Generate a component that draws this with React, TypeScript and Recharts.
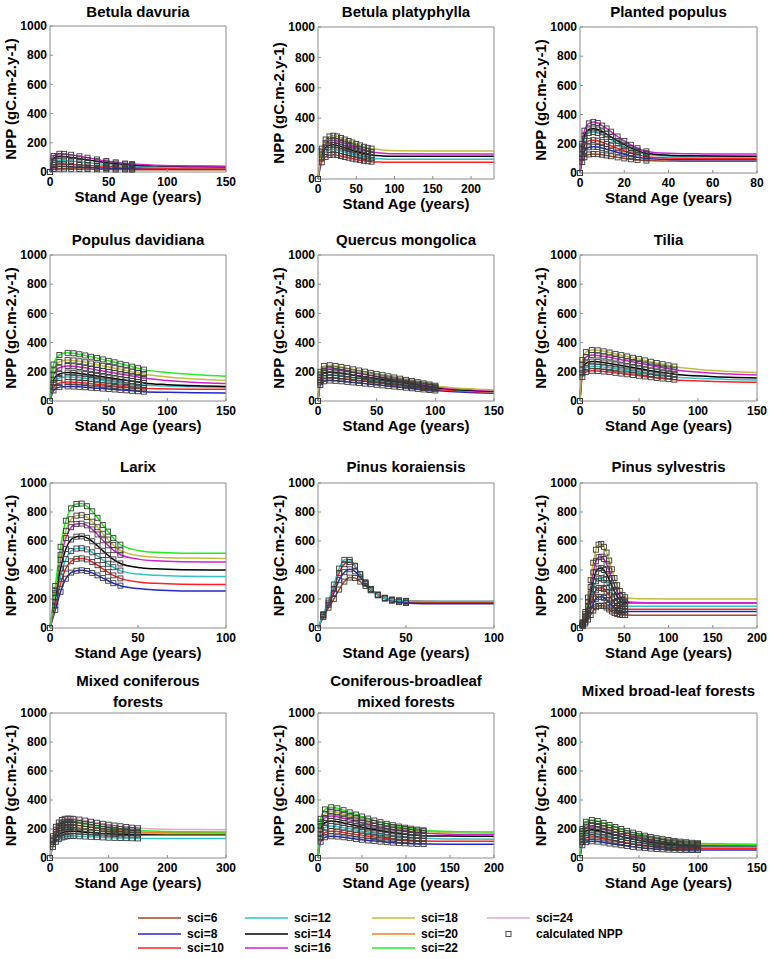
import React from "react";
import { LineChart, Line, XAxis, YAxis, Label } from "recharts";

const FONT = '"Liberation Sans", Arial, Helvetica, sans-serif';
const AXIS = "#8c8c8c";

const sciLevels = [6, 8, 10, 12, 14, 16, 18, 20, 22, 24];
const sciColors: Record<number, string> = {
  6: "#a4461f",
  8: "#2626c8",
  10: "#ff2020",
  12: "#33c2c2",
  14: "#000000",
  16: "#d020d0",
  18: "#c4bc3c",
  20: "#ef8022",
  22: "#22ee22",
  24: "#e2a8cc",
};

const yTicks = [0, 200, 400, 600, 800, 1000];

// ---- Betula davuria
const bdAges = [0, 3, 8, 12, 18, 25, 32, 40, 48, 56, 64, 70, 90, 120, 150];
const bdNpp: Record<number, number[]> = {
  6: [0, 20, 23, 23, 22, 21, 20, 19, 18, 17, 17, 16, 16, 15, 15],
  8: [0, 32, 37, 37, 35, 33, 31, 29, 27, 25, 24, 23, 21, 20, 20],
  10: [0, 48, 55, 54, 52, 48, 45, 41, 38, 35, 32, 30, 27, 25, 24],
  12: [0, 70, 80, 79, 75, 69, 63, 57, 51, 46, 42, 39, 34, 31, 30],
  14: [0, 95, 108, 106, 100, 92, 83, 74, 65, 58, 52, 48, 42, 38, 36],
  16: [0, 110, 125, 124, 118, 108, 98, 86, 75, 66, 58, 54, 46, 41, 40],
};

// ---- Betula platyphylla
const bpAges = [0, 5, 10, 15, 20, 25, 30, 35, 40, 45, 50, 55, 60, 65, 70, 85, 100, 150, 230];
const bpNpp: Record<number, number[]> = {
  10: [0, 110, 145, 157, 160, 157, 151, 145, 140, 134, 129, 124, 120, 117, 114, 111, 110, 110, 110],
  12: [0, 135, 178, 192, 195, 191, 184, 177, 170, 163, 157, 151, 145, 141, 137, 132, 130, 130, 130],
  14: [0, 160, 208, 222, 225, 221, 213, 205, 197, 189, 181, 174, 168, 163, 158, 152, 150, 150, 150],
  16: [0, 180, 235, 252, 255, 250, 242, 233, 224, 215, 206, 198, 190, 184, 178, 170, 166, 165, 165],
  18: [0, 200, 260, 280, 285, 280, 270, 260, 250, 240, 230, 221, 212, 205, 200, 190, 186, 185, 185],
};

// ---- Planted populus
const ppAges = [0, 1, 2, 4, 6, 8, 10, 12, 14, 17, 20, 23, 26, 30, 40, 50, 60, 80];
const ppNpp: Record<number, number[]> = {
  6: [0, 75, 108, 127, 130, 129, 125, 120, 115, 107, 100, 94, 89, 85, 82, 81, 80, 80],
  8: [0, 105, 150, 176, 180, 178, 171, 163, 154, 141, 128, 117, 108, 100, 93, 91, 90, 90],
  10: [0, 130, 190, 220, 225, 221, 211, 199, 187, 169, 152, 137, 124, 112, 103, 101, 100, 100],
  12: [0, 160, 235, 274, 280, 274, 261, 245, 228, 204, 181, 161, 144, 128, 115, 111, 110, 110],
  14: [0, 175, 255, 298, 305, 298, 284, 266, 247, 220, 194, 172, 153, 135, 122, 118, 116, 115],
  16: [0, 200, 290, 340, 350, 342, 325, 305, 283, 250, 220, 193, 170, 148, 135, 132, 130, 130],
};

// ---- Populus davidiana
const pdAges = [0, 3, 8, 15, 20, 25, 30, 35, 40, 45, 50, 55, 60, 65, 70, 75, 80, 100, 125, 150];
const pdNpp: Record<number, number[]> = {
  8: [0, 72, 95, 100, 99, 97, 94, 91, 88, 85, 82, 79, 76, 73, 70, 67, 64, 60, 57, 55],
  10: [0, 95, 123, 130, 129, 126, 123, 119, 115, 111, 107, 103, 99, 96, 93, 90, 87, 83, 81, 80],
  12: [0, 122, 157, 165, 163, 159, 155, 150, 145, 140, 135, 130, 126, 122, 118, 114, 110, 102, 97, 95],
  14: [0, 145, 185, 195, 193, 189, 184, 178, 172, 166, 160, 154, 148, 142, 136, 130, 124, 112, 104, 100],
  16: [0, 180, 228, 240, 238, 233, 227, 220, 213, 206, 199, 192, 185, 178, 171, 164, 157, 140, 127, 120],
  18: [0, 210, 268, 280, 278, 272, 265, 257, 249, 241, 233, 225, 217, 209, 201, 193, 185, 165, 150, 140],
  22: [0, 250, 315, 330, 327, 320, 312, 303, 294, 285, 275, 265, 255, 245, 235, 225, 215, 195, 180, 170],
};

// ---- Quercus mongolica
const qmAges = [0, 2, 5, 10, 15, 20, 25, 30, 35, 40, 45, 50, 55, 60, 65, 70, 75, 80, 85, 90, 95, 100, 125, 150];
const qmNpp: Record<number, number[]> = {
  8: [0, 110, 135, 140, 138, 135, 131, 127, 123, 119, 115, 111, 107, 103, 99, 95, 91, 87, 83, 79, 75, 72, 60, 53],
  10: [0, 128, 156, 160, 157, 153, 149, 145, 141, 137, 133, 129, 124, 119, 114, 109, 104, 99, 94, 89, 85, 81, 67, 58],
  12: [0, 142, 172, 177, 174, 170, 165, 160, 155, 150, 145, 140, 135, 130, 125, 120, 115, 110, 105, 100, 95, 90, 72, 62],
  14: [0, 160, 192, 197, 194, 189, 183, 177, 171, 165, 159, 153, 147, 141, 135, 129, 123, 117, 111, 105, 99, 93, 75, 66],
  16: [0, 180, 215, 220, 216, 210, 203, 196, 189, 182, 175, 168, 161, 154, 147, 140, 133, 126, 119, 112, 105, 98, 80, 70],
  18: [0, 200, 240, 245, 240, 233, 225, 217, 209, 201, 193, 185, 177, 169, 161, 153, 145, 137, 129, 121, 113, 105, 85, 75],
};

// ---- Tilia
const tiAges = [0, 2, 5, 10, 15, 20, 25, 30, 35, 40, 45, 50, 55, 60, 65, 70, 75, 80, 110, 150];
const tiNpp: Record<number, number[]> = {
  10: [0, 165, 198, 207, 205, 202, 198, 193, 188, 183, 178, 173, 168, 163, 158, 154, 150, 146, 135, 128],
  12: [0, 190, 228, 238, 236, 232, 227, 221, 215, 209, 203, 197, 191, 185, 180, 175, 170, 165, 152, 143],
  14: [0, 215, 258, 270, 268, 263, 257, 250, 243, 236, 229, 222, 215, 208, 202, 196, 190, 184, 168, 158],
  16: [0, 250, 300, 315, 312, 306, 299, 291, 283, 275, 267, 259, 251, 243, 235, 228, 221, 214, 192, 178],
  18: [0, 280, 335, 350, 347, 340, 332, 323, 314, 305, 296, 287, 278, 269, 260, 252, 244, 236, 210, 195],
};

// ---- Larix
const lxAges = [0, 3, 6, 9, 12, 15, 18, 21, 24, 27, 30, 33, 36, 40, 50, 60, 75, 100];
const lxNpp: Record<number, number[]> = {
  8: [0, 125, 250, 340, 382, 395, 398, 393, 380, 363, 344, 326, 309, 292, 272, 262, 256, 255],
  10: [0, 155, 305, 410, 460, 477, 480, 473, 455, 433, 408, 385, 363, 342, 318, 308, 302, 300],
  12: [0, 180, 355, 475, 530, 548, 550, 542, 522, 497, 469, 443, 419, 396, 372, 363, 357, 355],
  14: [0, 210, 410, 545, 610, 630, 632, 622, 598, 567, 533, 502, 473, 445, 418, 408, 402, 400],
  16: [0, 240, 470, 620, 695, 718, 720, 708, 680, 645, 605, 570, 537, 505, 475, 463, 457, 455],
  18: [0, 260, 505, 670, 750, 775, 778, 765, 733, 695, 650, 610, 572, 535, 500, 488, 482, 480],
  22: [0, 290, 560, 740, 825, 855, 858, 840, 805, 760, 710, 665, 620, 575, 535, 522, 516, 515],
};

// ---- Pinus koraiensis
const pkAges = [0, 3, 6, 9, 12, 15, 18, 21, 24, 27, 30, 34, 38, 42, 46, 50, 60, 75, 100];
const pkNpp: Record<number, number[]> = {
  6: [0, 75, 140, 200, 265, 320, 348, 345, 320, 290, 260, 230, 208, 193, 183, 178, 175, 175, 175],
  8: [0, 85, 160, 240, 330, 385, 405, 390, 350, 305, 265, 228, 203, 188, 178, 172, 168, 167, 167],
  10: [0, 90, 175, 270, 380, 440, 455, 425, 370, 315, 270, 230, 208, 196, 190, 187, 185, 183, 183],
  12: [0, 95, 190, 300, 410, 470, 470, 430, 370, 310, 265, 225, 205, 195, 190, 187, 185, 185, 185],
};

// ---- Pinus sylvestris
const psAges = [0, 3, 6, 9, 12, 15, 18, 21, 24, 27, 30, 33, 36, 39, 42, 45, 48, 51, 60, 75, 100, 150, 200];
const psNpp: Record<number, number[]> = {
  6: [0, 12, 31, 58, 90, 120, 143, 152, 155, 151, 141, 128, 114, 103, 96, 92, 90, 89, 88, 88, 88, 88, 88],
  8: [0, 16, 43, 80, 125, 168, 202, 213, 215, 208, 194, 175, 155, 137, 124, 117, 114, 113, 113, 113, 113, 113, 113],
  10: [0, 20, 54, 102, 160, 216, 260, 275, 277, 268, 250, 225, 198, 172, 152, 138, 132, 130, 130, 130, 130, 130, 130],
  12: [0, 25, 67, 127, 198, 268, 322, 341, 344, 333, 310, 279, 245, 212, 185, 165, 155, 151, 150, 150, 150, 150, 150],
  14: [0, 30, 80, 152, 238, 322, 387, 410, 413, 400, 372, 334, 292, 252, 218, 192, 180, 175, 175, 175, 175, 175, 175],
  16: [0, 35, 95, 180, 283, 383, 460, 488, 492, 476, 442, 396, 345, 295, 253, 220, 197, 184, 177, 175, 175, 175, 175],
  18: [0, 40, 110, 210, 330, 450, 540, 575, 580, 560, 520, 465, 405, 345, 295, 255, 228, 212, 204, 201, 200, 200, 200],
};

// ---- Mixed coniferous forests
const mcAges = [0, 5, 10, 15, 20, 25, 30, 35, 40, 50, 60, 70, 80, 90, 100, 110, 120, 130, 140, 150, 200, 250, 300];
const mcNpp: Record<number, number[]> = {
  12: [0, 75, 112, 130, 141, 147, 150, 152, 152, 150, 148, 146, 144, 142, 140, 139, 138, 137, 136, 135, 135, 135, 135],
  14: [0, 95, 140, 161, 173, 180, 183, 184, 184, 181, 178, 175, 172, 169, 167, 165, 163, 162, 161, 160, 160, 160, 160],
  18: [0, 115, 165, 189, 203, 210, 212, 211, 210, 206, 201, 196, 191, 187, 183, 180, 177, 174, 172, 170, 168, 168, 168],
  20: [0, 125, 180, 206, 221, 228, 230, 229, 228, 224, 218, 212, 206, 201, 196, 192, 188, 185, 182, 180, 176, 175, 175],
  22: [0, 135, 195, 222, 238, 246, 248, 247, 246, 241, 235, 228, 222, 216, 210, 205, 200, 196, 193, 190, 183, 181, 180],
  24: [0, 150, 215, 245, 262, 270, 272, 271, 270, 265, 258, 250, 243, 236, 230, 224, 219, 214, 209, 205, 198, 196, 195],
};

// ---- Coniferous-broadleaf mixed forests
const cbAges = [0, 3, 8, 15, 22, 29, 36, 43, 50, 57, 64, 71, 78, 85, 92, 99, 106, 113, 120, 150, 200];
const cbNpp: Record<number, number[]> = {
  8: [0, 112, 143, 150, 148, 143, 137, 131, 126, 121, 117, 113, 109, 106, 103, 101, 99, 97, 96, 95, 95],
  10: [0, 140, 176, 185, 182, 176, 169, 162, 156, 150, 144, 139, 134, 130, 126, 123, 120, 118, 117, 115, 115],
  12: [0, 165, 210, 220, 216, 209, 201, 193, 185, 178, 171, 164, 158, 153, 148, 144, 141, 138, 136, 131, 130],
  14: [0, 195, 243, 255, 250, 242, 232, 222, 213, 204, 196, 188, 181, 175, 169, 164, 160, 157, 154, 151, 150],
  16: [0, 220, 276, 290, 284, 274, 263, 252, 241, 231, 221, 212, 204, 197, 191, 185, 180, 176, 172, 163, 160],
  18: [0, 245, 305, 320, 313, 302, 289, 276, 264, 252, 241, 231, 222, 214, 207, 200, 194, 189, 185, 175, 170],
  22: [0, 270, 335, 350, 343, 330, 315, 300, 286, 272, 259, 247, 236, 226, 217, 209, 202, 196, 191, 183, 180],
};

// ---- Mixed broad-leaf forests
const mbAges = [0, 2, 5, 10, 15, 20, 25, 30, 35, 40, 45, 50, 55, 60, 65, 70, 75, 80, 85, 90, 95, 100, 125, 150];
const mbNpp: Record<number, number[]> = {
  8: [0, 88, 109, 115, 113, 107, 100, 94, 88, 82, 77, 72, 68, 65, 62, 60, 58, 57, 56, 55, 55, 55, 55, 55],
  10: [0, 110, 137, 145, 142, 134, 126, 118, 110, 103, 96, 90, 85, 81, 77, 74, 71, 69, 67, 66, 65, 65, 65, 65],
  12: [0, 130, 161, 170, 166, 157, 148, 138, 129, 121, 113, 106, 100, 95, 90, 86, 83, 80, 78, 77, 76, 75, 75, 75],
  14: [0, 150, 185, 195, 190, 180, 169, 158, 148, 138, 129, 121, 114, 108, 103, 98, 94, 91, 88, 86, 85, 84, 84, 84],
  16: [0, 170, 210, 220, 214, 203, 191, 179, 167, 156, 146, 137, 129, 122, 116, 110, 105, 101, 97, 94, 92, 90, 89, 89],
  18: [0, 185, 230, 240, 234, 222, 209, 196, 183, 171, 160, 150, 141, 133, 126, 120, 114, 109, 105, 101, 98, 96, 93, 92],
  22: [0, 200, 250, 262, 255, 242, 228, 214, 200, 187, 175, 164, 154, 145, 137, 130, 124, 118, 113, 109, 105, 102, 97, 95],
};

type PanelDef = {
  title: string[];
  ages: number[];
  npp: Record<number, number[]>;
  xMax: number;
  xTicks: number[];
  markerMax: number;
  box: { x: number; y: number; w: number; h: number };
  titleY: number;
};

const panels: PanelDef[] = [
  { title: ["Betula davuria"], ages: bdAges, npp: bdNpp, xMax: 150, xTicks: [0, 50, 100, 150], markerMax: 70, box: { x: 50, y: 26, w: 176, h: 146 }, titleY: 12 },
  { title: ["Betula platyphylla"], ages: bpAges, npp: bpNpp, xMax: 230, xTicks: [0, 50, 100, 150, 200], markerMax: 70, box: { x: 318, y: 27, w: 176, h: 152 }, titleY: 12 },
  { title: ["Planted populus"], ages: ppAges, npp: ppNpp, xMax: 80, xTicks: [0, 20, 40, 60, 80], markerMax: 30, box: { x: 580, y: 27, w: 177, h: 146 }, titleY: 12 },
  { title: ["Populus davidiana"], ages: pdAges, npp: pdNpp, xMax: 150, xTicks: [0, 50, 100, 150], markerMax: 80, box: { x: 50, y: 255, w: 176, h: 146 }, titleY: 240 },
  { title: ["Quercus mongolica"], ages: qmAges, npp: qmNpp, xMax: 150, xTicks: [0, 50, 100, 150], markerMax: 100, box: { x: 318, y: 255, w: 176, h: 146 }, titleY: 240 },
  { title: ["Tilia"], ages: tiAges, npp: tiNpp, xMax: 150, xTicks: [0, 50, 100, 150], markerMax: 80, box: { x: 580, y: 255, w: 177, h: 146 }, titleY: 240 },
  { title: ["Larix"], ages: lxAges, npp: lxNpp, xMax: 100, xTicks: [0, 50, 100], markerMax: 40, box: { x: 50, y: 483, w: 176, h: 145 }, titleY: 467 },
  { title: ["Pinus koraiensis"], ages: pkAges, npp: pkNpp, xMax: 100, xTicks: [0, 50, 100], markerMax: 50, box: { x: 318, y: 483, w: 176, h: 145 }, titleY: 467 },
  { title: ["Pinus sylvestris"], ages: psAges, npp: psNpp, xMax: 200, xTicks: [0, 50, 100, 150, 200], markerMax: 51, box: { x: 580, y: 483, w: 177, h: 145 }, titleY: 467 },
  { title: ["Mixed coniferous", "forests"], ages: mcAges, npp: mcNpp, xMax: 300, xTicks: [0, 100, 200, 300], markerMax: 150, box: { x: 50, y: 713, w: 176, h: 145 }, titleY: 681 },
  { title: ["Coniferous-broadleaf", "mixed forests"], ages: cbAges, npp: cbNpp, xMax: 200, xTicks: [0, 50, 100, 150, 200], markerMax: 120, box: { x: 318, y: 713, w: 176, h: 145 }, titleY: 681 },
  { title: ["Mixed broad-leaf forests"], ages: mbAges, npp: mbNpp, xMax: 150, xTicks: [0, 50, 100, 150], markerMax: 100, box: { x: 580, y: 713, w: 177, h: 145 }, titleY: 691 },
];

const tickStyle = { fill: "#000", fontSize: 12, fontWeight: 700, fontFamily: FONT };
const labelStyle: React.CSSProperties = { fontSize: 15, fontWeight: 700, fontFamily: FONT, fill: "#000" };

const makeDot = (maxAge: number) => (props: any) => {
  const { cx, cy, payload, index } = props;
  if (cx == null || cy == null || payload.age > maxAge) return <g key={`n${index}`} />;
  return (
    <rect key={`m${index}`} x={cx - 2.5} y={cy - 2.5} width={5} height={5} fill="none" stroke="#3a3a3a" strokeWidth={0.9} />
  );
};

const YLabel = (props: any) => {
  const vb = props.viewBox;
  const cx = vb.x + 10;
  const cy = vb.y + vb.height / 2;
  return (
    <text x={cx} y={cy} transform={`rotate(-90 ${cx} ${cy})`} textAnchor="middle" dominantBaseline="central" style={labelStyle}>
      NPP (gC.m-2.y-1)
    </text>
  );
};

const XLabel = (props: any) => {
  const vb = props.viewBox;
  return (
    <text x={vb.x + vb.width / 2} y={vb.y + 24} textAnchor="middle" dominantBaseline="central" style={labelStyle}>
      Stand Age (years)
    </text>
  );
};

const ML = 50;
const MR = 14;
const MT = 10;
const XH = 36;

function Panel({ p }: { p: PanelDef }) {
  const levels = Object.keys(p.npp).map(Number).sort((a, b) => a - b);
  const rows = p.ages.map((age, i) => {
    const r: Record<string, number> = { age };
    levels.forEach((l) => (r["s" + l] = p.npp[l][i]));
    return r;
  });
  const w = ML + p.box.w + 1 + MR;
  const h = MT + 1 + p.box.h + XH;
  const dot = makeDot(p.markerMax);
  return (
    <>
      {p.title.map((t, i) => (
        <div
          key={t}
          style={{
            position: "absolute",
            left: p.box.x + p.box.w / 2 - 150,
            width: 300,
            top: p.titleY + i * 21 - 10,
            height: 20,
            lineHeight: "20px",
            textAlign: "center",
            fontFamily: FONT,
            fontWeight: 700,
            fontSize: 15,
            color: "#000",
          }}
        >
          {t}
        </div>
      ))}
      <div style={{ position: "absolute", left: p.box.x - ML, top: p.box.y - MT - 1 }}>
        <LineChart width={w} height={h} data={rows} margin={{ top: MT, right: MR, bottom: 0, left: 0 }}>
          <XAxis
            dataKey="age"
            type="number"
            domain={[0, p.xMax]}
            ticks={p.xTicks}
            interval={0}
            height={XH}
            tickLine={{ stroke: AXIS }}
            tickSize={-3}
            tickMargin={8}
            axisLine={{ stroke: AXIS }}
            tick={tickStyle}
          >
            <Label content={XLabel} />
          </XAxis>
          <XAxis
            xAxisId="top"
            orientation="top"
            dataKey="age"
            type="number"
            domain={[0, p.xMax]}
            ticks={p.xTicks}
            interval={0}
            height={1}
            tick={false}
            tickLine={{ stroke: AXIS }}
            tickSize={-3}
            axisLine={{ stroke: AXIS }}
          />
          <YAxis
            type="number"
            domain={[0, 1000]}
            ticks={yTicks}
            interval={0}
            width={ML}
            tickLine={{ stroke: AXIS }}
            tickSize={-3}
            tickMargin={6}
            axisLine={{ stroke: AXIS }}
            tick={tickStyle}
          >
            <Label content={YLabel} />
          </YAxis>
          <YAxis
            yAxisId="right"
            orientation="right"
            type="number"
            domain={[0, 1000]}
            ticks={yTicks}
            interval={0}
            width={1}
            tick={false}
            tickLine={{ stroke: AXIS }}
            tickSize={-3}
            axisLine={{ stroke: AXIS }}
          />
          {levels.map((l) => (
            <Line
              key={l}
              type="monotone"
              dataKey={"s" + l}
              stroke={sciColors[l]}
              strokeWidth={1.5}
              dot={dot}
              activeDot={false}
              isAnimationActive={false}
            />
          ))}
        </LineChart>
      </div>
    </>
  );
}

const legendCols = [138, 245, 372, 487];
const legendRows = [918, 934, 948];

function LegendBlock() {
  const items = sciLevels.map((l, i) => ({
    label: `sci=${l}`,
    color: sciColors[l],
    col: Math.floor(i / 3),
    row: i % 3,
  }));
  const textStyle: React.CSSProperties = { fontSize: 12, fontWeight: 700, fontFamily: FONT, fill: "#000" };
  return (
    <svg style={{ position: "absolute", left: 0, top: 0 }} width={770} height={959}>
      {items.map((it) => {
        const x = legendCols[it.col];
        const y = legendRows[it.row];
        return (
          <g key={it.label}>
            <line x1={x} x2={x + 43} y1={y} y2={y} stroke={it.color} strokeWidth={1.5} />
            <text x={x + 49} y={y} dominantBaseline="central" style={textStyle}>
              {it.label}
            </text>
          </g>
        );
      })}
      <rect x={legendCols[3] + 19} y={legendRows[1] - 2.5} width={5} height={5} fill="none" stroke="#3a3a3a" strokeWidth={0.9} />
      <text x={legendCols[3] + 49} y={legendRows[1]} dominantBaseline="central" style={textStyle}>
        calculated NPP
      </text>
    </svg>
  );
}

export default function App() {
  return (
    <div style={{ position: "absolute", left: 0, top: 0, width: 770, height: 959, background: "#fff", overflow: "hidden" }}>
      <LegendBlock />
      {panels.map((p) => (
        <Panel key={p.title.join(" ")} p={p} />
      ))}
    </div>
  );
}
